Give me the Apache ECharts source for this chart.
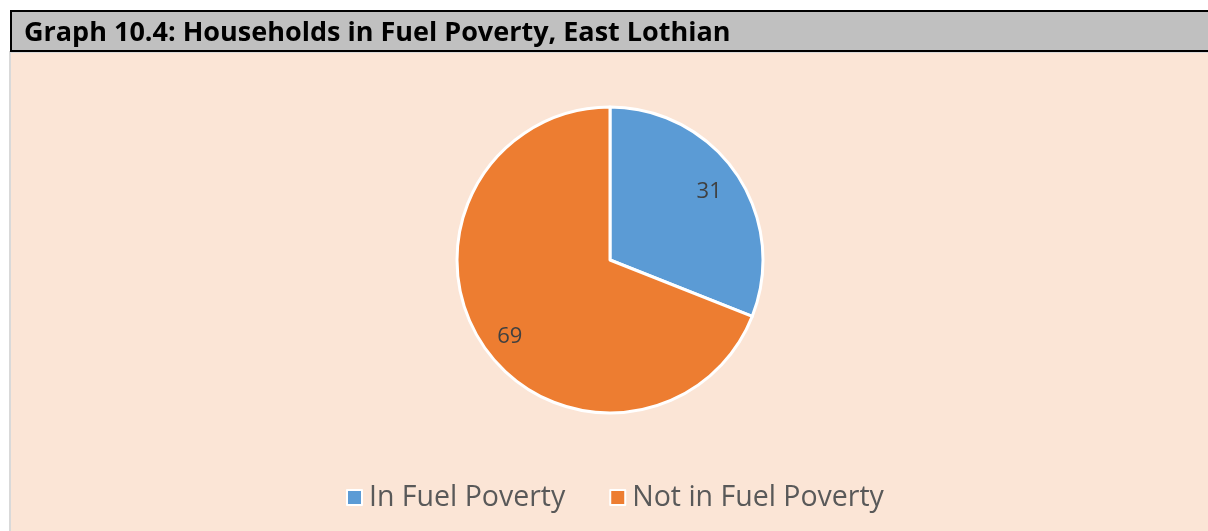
<!DOCTYPE html>
<html><head><meta charset="utf-8">
<script src="https://cdn.jsdelivr.net/npm/echarts@6/dist/echarts.min.js"></script>
<style>html,body{margin:0;padding:0;background:#fff}#c{width:1208px;height:531px}</style>
</head><body><div id="c"></div>
<script>
const titleText = 'Graph 10.4: Households in Fuel Poverty, East Lothian';
const categories = ['In Fuel Poverty', 'Not in Fuel Poverty'];
const values = [31, 69];
const colors = ['#5b9bd5', '#ed7d31'];

const labelNudges = [[-3, 1], [2, 7]];
const chart = echarts.init(document.getElementById('c'));
const font = '"Open Sans", "Noto Sans", sans-serif';
const data = categories.map((c, i) => ({ name: c, value: values[i], itemStyle: { color: colors[i] } }));
chart.setOption({
  animation: false,
  textStyle: { fontFamily: font },
  graphic: [
    { type: 'rect', z: -10, shape: { x: 10, y: 52, width: 1210, height: 490 }, style: { fill: '#fbe5d6', stroke: '#d9d9d9', lineWidth: 2 } },
    { type: 'rect', z: -9, shape: { x: 11, y: 11, width: 1210, height: 40 }, style: { fill: '#c0c0c0', stroke: '#000', lineWidth: 2 } }
  ],
  title: { text: titleText, left: 19, top: 15, textStyle: { fontFamily: font, fontWeight: 'bold', fontSize: 27, color: '#000' } },
  legend: {
    data: categories, bottom: 14, left: 341, icon: 'rect', itemWidth: 15, itemHeight: 15, itemGap: 44,
    itemStyle: { borderColor: '#fff', borderWidth: 2 },
    textStyle: { fontFamily: font, fontSize: 28.5, color: '#595959', padding: [0, 0, 0, 2] }
  },
  series: [
    { type: 'pie', center: [610, 260], radius: 153, startAngle: 90, clockwise: true,
      itemStyle: { borderColor: '#fff', borderWidth: 3 }, label: { show: false }, labelLine: { show: false },
      emphasis: { disabled: true }, data: data },
    { type: 'pie', center: [610, 260], radius: [88, 153], startAngle: 90, clockwise: true, silent: true,
      itemStyle: { color: 'transparent', borderWidth: 0 }, legendHoverLink: false,
      label: { show: true, position: 'inside', formatter: '{c}', fontFamily: font, fontSize: 22, color: '#404040' },
      labelLine: { show: false }, emphasis: { disabled: true },
      data: categories.map((c, i) => ({ name: c + ' ', value: values[i], itemStyle: { color: 'transparent' }, label: { offset: labelNudges[i] } })) }
  ]
});
</script></body></html>
